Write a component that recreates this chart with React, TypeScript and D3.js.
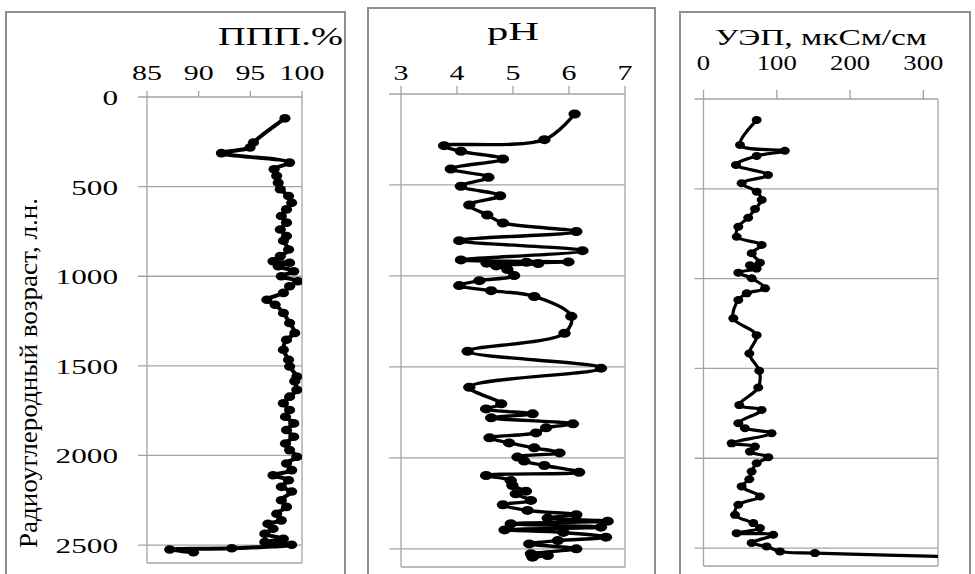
import React from "react";
import * as d3 from "d3";

// ---------- data (age, value) ----------
const ageTicks = [0, 500, 1000, 1500, 2000, 2500];
const lossTicks = [85, 90, 95, 100];
const phTicks = [3, 4, 5, 6, 7];
const ecTicks = [0, 100, 200, 300];

const lossProfile: [number, number][] = [
  [119, 98.35], [254, 95.3], [282, 94.97], [313, 92.2], [366, 98.8], [403, 97.3],
  [440, 97.55], [478, 97.7], [515, 97.9], [552, 98.7], [590, 99.0], [627, 98.5],
  [664, 98.0], [701, 98.5], [739, 97.9], [776, 98.5], [802, 98.2], [851, 98.7],
  [888, 97.9], [916, 97.2], [925, 98.8], [944, 97.7], [972, 99.2], [1000, 98.0],
  [1028, 99.6], [1056, 98.8], [1093, 98.2], [1131, 96.6], [1159, 97.4], [1205, 98.2],
  [1261, 98.8], [1317, 99.3], [1354, 98.5], [1410, 98.2], [1466, 98.7], [1504, 98.8],
  [1560, 99.5], [1586, 99.3], [1634, 99.5], [1672, 98.8], [1709, 98.2], [1746, 98.8],
  [1784, 98.4], [1821, 99.2], [1858, 98.5], [1896, 99.2], [1933, 98.4], [1970, 98.8],
  [2007, 99.5], [2045, 98.5], [2082, 99.0], [2110, 97.2], [2138, 98.7], [2175, 98.0],
  [2201, 99.0], [2250, 98.0], [2287, 98.5], [2325, 97.55], [2362, 98.0], [2381, 96.7],
  [2409, 97.2], [2437, 96.4], [2465, 98.2], [2483, 96.4], [2498, 99.0], [2518, 93.2],
  [2525, 87.2], [2540, 89.5],
];

const phProfile: [number, number][] = [
  [110, 6.10], [251, 5.56], [284, 3.77], [315, 4.07], [357, 4.82], [412, 3.89],
  [458, 4.56], [507, 4.07], [559, 4.77], [610, 4.22], [665, 4.54], [709, 4.82],
  [756, 6.13], [806, 4.04], [861, 6.24], [912, 4.07], [923, 5.99], [930, 4.53],
  [925, 5.24], [932, 5.45], [945, 4.70], [965, 4.90], [998, 5.02], [1026, 4.40],
  [1053, 4.04], [1081, 4.61], [1113, 5.38], [1222, 6.04], [1315, 5.92], [1414, 4.19],
  [1507, 6.57], [1612, 4.22], [1703, 4.79], [1731, 4.52], [1758, 5.35], [1780, 4.61],
  [1813, 6.07], [1835, 5.59], [1863, 5.41], [1890, 4.58], [1918, 4.93], [1945, 5.38],
  [1973, 5.83], [1996, 5.08], [2018, 5.20], [2042, 5.56], [2079, 6.18], [2097, 4.52],
  [2125, 4.96], [2152, 4.99], [2183, 5.23], [2198, 5.05], [2234, 5.32], [2258, 4.82],
  [2289, 5.26], [2313, 6.13], [2331, 5.62], [2348, 6.69], [2362, 4.96], [2381, 6.57],
  [2396, 4.85], [2410, 5.90], [2436, 6.66], [2455, 5.80], [2473, 5.29], [2500, 6.13],
  [2527, 5.32], [2537, 5.62], [2546, 5.35],
];

const ecProfile: [number, number][] = [
  [117, 72.6], [256, 49.8], [288, 111], [317, 72.6], [367, 44.3], [423, 88],
  [469, 52], [516, 72.6], [562, 79.4], [612, 70.3], [661, 61], [711, 47.5],
  [767, 45.3], [813, 79.4], [859, 65.8], [911, 77], [926, 63.4], [944, 72.5],
  [967, 47.5], [998, 65.8], [1054, 84], [1082, 59], [1119, 47.5], [1221, 40.7],
  [1315, 72.5], [1417, 62.5], [1513, 76.1], [1606, 74.7], [1704, 48.8], [1731, 79.3],
  [1805, 47.5], [1833, 56.6], [1861, 92.9], [1917, 38.4], [1935, 70.2], [1963, 63.4],
  [1994, 88.4], [2028, 72.5], [2074, 65.7], [2117, 62.5], [2157, 52], [2213, 77],
  [2259, 47.5], [2315, 43], [2361, 68], [2389, 77], [2417, 45.2], [2426, 95.2],
  [2472, 65.7], [2491, 86.1], [2519, 104.3], [2528, 152], [2550, 360],
];

const titles = ["ППП.%", "pH", "УЭП, мкСм/см"];
const yTitle = "Радиоуглеродный возраст, л.н.";

// ---------- layout ----------
const FONT = '"Liberation Serif","Times New Roman",serif';
const GRID = "#a3a3a3";
const FRAME = "#8e8e8e";

type PanelCfg = {
  id: string;
  data: [number, number][];
  domain: [number, number];
  ticks: number[];
  l: number; r: number; t: number; b: number;
  labelY: number; labelSx: number; labelSize: number;
  tickUp: number; leftExt: number;
  rx: number; ry: number; lw: number;
  title: string; titleX: number; titleY: number; titleSize: number; titleLen: number;
  frame: { x: number; y: number; w: number };
  yLabels: boolean;
};

const panels: PanelCfg[] = [
  {
    id: "p1", data: lossProfile, domain: [85, 100], ticks: lossTicks,
    l: 147, r: 302, t: 97, b: 563, labelY: 80, labelSx: 1.36, labelSize: 22, tickUp: 6, leftExt: 9,
    rx: 5.6, ry: 4.3, lw: 4,
    title: titles[0], titleX: 218, titleY: 45, titleSize: 25, titleLen: 125,
    frame: { x: 6, y: 12, w: 339 }, yLabels: true,
  },
  {
    id: "p2", data: phProfile, domain: [3, 7], ticks: phTicks,
    l: 401, r: 625, t: 94, b: 567, labelY: 80, labelSx: 1.36, labelSize: 22, tickUp: 8, leftExt: 12,
    rx: 6.2, ry: 4.5, lw: 3.4,
    title: titles[1], titleX: 487, titleY: 40, titleSize: 25, titleLen: 52,
    frame: { x: 368, y: 8, w: 287 }, yLabels: false,
  },
  {
    id: "p3", data: ecProfile, domain: [0, 320], ticks: ecTicks,
    l: 703.5, r: 938, t: 99, b: 566, labelY: 70, labelSx: 1.27, labelSize: 21, tickUp: 9, leftExt: 9,
    rx: 5, ry: 4, lw: 3.2,
    title: titles[2], titleX: 715, titleY: 45, titleSize: 24, titleLen: 212,
    frame: { x: 680, y: 12, w: 290 }, yLabels: false,
  },
];

function STxt(props: { x: number; y: number; sx?: number; size: number; anchor?: string; children: React.ReactNode }) {
  const { x, y, sx = 1, size, anchor = "middle", children } = props;
  return (
    <text transform={`translate(${x},${y}) scale(${sx},1)`} textAnchor={anchor as any}
      fontSize={size} fontFamily={FONT} fill="#000">{children}</text>
  );
}

function Panel({ p }: { p: PanelCfg }) {
  const x = d3.scaleLinear().domain(p.domain).range([p.l, p.r]);
  const y = d3.scaleLinear().domain([0, 2600]).range([p.t, p.b]);
  const line = d3.line<[number, number]>()
    .x((d) => x(d[1]))
    .y((d) => y(d[0]))
    .curve(d3.curveCatmullRom.alpha(0.5));
  return (
    <g>
      <rect x={p.frame.x} y={p.frame.y} width={p.frame.w} height={600}
        fill="none" stroke={FRAME} strokeWidth={2} />
      <text x={p.titleX} y={p.titleY} fontSize={p.titleSize} fontFamily={FONT}
        textLength={p.titleLen} lengthAdjust="spacingAndGlyphs">{p.title}</text>
      <defs>
        <clipPath id={`clip-${p.id}`}>
          <rect x={p.l - 8} y={p.t - 4} width={p.r - p.l + 8} height={p.b - p.t + 4} />
        </clipPath>
      </defs>
      {ageTicks.map((a) => (
        <line key={a} x1={p.l - p.leftExt} x2={p.r} y1={y(a)} y2={y(a)}
          stroke={GRID} strokeWidth={1.3} />
      ))}
      <line x1={p.l} x2={p.l} y1={p.t} y2={p.b} stroke={GRID} strokeWidth={1.3} />
      <line x1={p.r} x2={p.r} y1={p.t} y2={p.b} stroke={GRID} strokeWidth={1.3} />
      <line x1={p.l} x2={p.r} y1={p.b} y2={p.b} stroke={GRID} strokeWidth={1.3} />
      {p.ticks.map((t) => (
        <g key={t}>
          <line x1={x(t)} x2={x(t)} y1={p.t - p.tickUp} y2={p.t} stroke={GRID} strokeWidth={1.3} />
          <STxt x={x(t)} y={p.labelY} sx={p.labelSx} size={p.labelSize}>{String(t)}</STxt>
        </g>
      ))}
      {p.yLabels && ageTicks.map((a) => (
        <STxt key={a} x={118} y={y(a) + 8} sx={1.42} size={22} anchor="end">{String(a)}</STxt>
      ))}
      <g clipPath={`url(#clip-${p.id})`}>
        <path d={line(p.data) || ""} fill="none" stroke="#000" strokeWidth={p.lw}
          strokeLinejoin="round" strokeLinecap="round" />
        {p.data.map((d, i) => (
          <ellipse key={i} cx={x(d[1])} cy={y(d[0])} rx={p.rx} ry={p.ry} fill="#000" />
        ))}
      </g>
    </g>
  );
}

export default function App() {
  return (
    <svg width={975} height={574} viewBox="0 0 975 574"
      style={{ position: "fixed", left: 0, top: 0, background: "#fff" }}>
      <rect x={0} y={0} width={975} height={574} fill="#fff" />
      {panels.map((p) => <Panel key={p.id} p={p} />)}
      <text transform="translate(37,373) rotate(-90)" textAnchor="middle" fontSize={26}
        fontFamily={FONT} textLength={350} lengthAdjust="spacingAndGlyphs">{yTitle}</text>
    </svg>
  );
}
